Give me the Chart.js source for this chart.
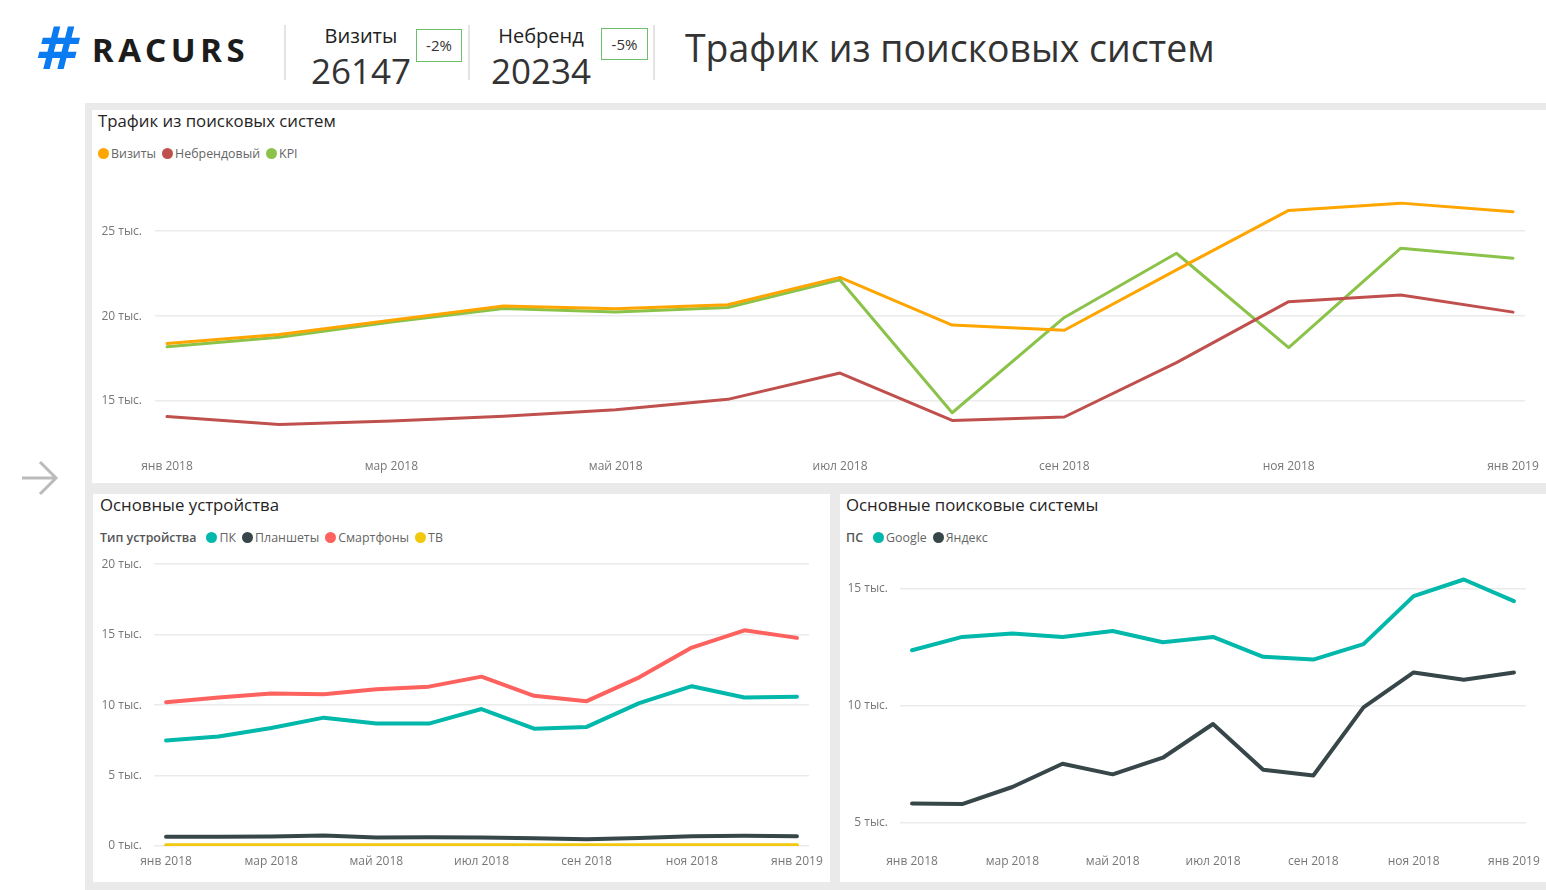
<!DOCTYPE html>
<html><head><meta charset="utf-8">
<script src="https://cdn.jsdelivr.net/npm/chart.js@4.4.0/dist/chart.umd.min.js"></script>
<style>
body{margin:0;width:1546px;height:890px;background:#fff;position:relative;overflow:hidden;font-family:"Open Sans","Noto Sans",sans-serif;color:#333;}
.a{position:absolute;}
.bg{left:85px;top:103px;width:1461px;height:787px;background:#EAEAEA;}
.panel{background:#fff;}
.sep{width:2px;top:25px;height:55px;background:#E4E4E4;}
.kpiT{font-size:20px;line-height:24px;text-align:center;color:#222;}
.kpiV{font-size:35px;line-height:40px;color:#333;letter-spacing:0px;}
.box{border:1px solid #6CC06C;font-size:15px;line-height:30px;text-align:center;color:#333;box-sizing:border-box;}
.ptitle{font-size:16.8px;line-height:20px;color:#252423;}
.legend{display:flex;align-items:center;font-size:12.4px;color:#666;white-space:nowrap;}
.legend .it{display:flex;align-items:center;margin-right:6px;}
.legend .dot{width:11px;height:11px;border-radius:50%;margin-right:2px;}
.legend .lt{font-weight:600;color:#555;margin-right:10px;}
canvas{position:absolute;}
</style></head>
<body>
<div class="a" style="left:34px;top:16px;font-family:'DejaVu Sans',sans-serif;font-weight:bold;font-style:italic;font-size:59px;line-height:66px;color:#0A7BF0;">#</div>
<div class="a" style="left:92px;top:29px;font-family:'Noto Sans','Open Sans',sans-serif;font-weight:700;font-size:33px;line-height:42px;letter-spacing:4.6px;color:#1c1c1c;">RACURS</div>
<div class="a sep" style="left:284px;"></div>
<div class="a kpiT" style="left:311px;top:24px;width:100px;">Визиты</div>
<div class="a kpiV" id="v1" style="left:311px;top:51px;"></div>
<div class="a box" id="b1" style="left:416px;top:29px;width:46px;height:33px;"></div>
<div class="a sep" style="left:468px;"></div>
<div class="a kpiT" style="left:491px;top:24px;width:100px;">Небренд</div>
<div class="a kpiV" id="v2" style="left:491px;top:51px;"></div>
<div class="a box" id="b2" style="left:601px;top:28px;width:47px;height:32px;"></div>
<div class="a sep" style="left:653px;"></div>
<div class="a" style="left:685px;top:25px;font-size:37.4px;line-height:46px;color:#333;">Трафик из поисковых систем</div>

<svg class="a" style="left:18px;top:456px;" width="44" height="44"><path d="M4 22 H38 M22 6 L38 22 L22 38" stroke="#BBBBBB" stroke-width="3" fill="none"/></svg>

<div class="a bg"></div>
<div class="a panel" style="left:92px;top:110px;width:1454px;height:373px;"></div>
<div class="a panel" style="left:93px;top:494px;width:737px;height:388px;"></div>
<div class="a panel" style="left:840px;top:494px;width:706px;height:388px;"></div>

<div class="a ptitle" style="left:98px;top:111px;">Трафик из поисковых систем</div>
<div class="a legend" id="lg1" style="left:98px;top:145px;"></div>
<div class="a ptitle" style="left:100px;top:495px;">Основные устройства</div>
<div class="a legend" id="lg2" style="left:100px;top:529px;"><span class="lt">Тип устройства</span></div>
<div class="a ptitle" style="left:846px;top:495px;">Основные поисковые системы</div>
<div class="a legend" id="lg3" style="left:846px;top:529px;"><span class="lt">ПС</span></div>

<canvas id="c1" style="left:92px;top:155px;" width="1454" height="325"></canvas>
<canvas id="c2" style="left:93px;top:545px;" width="737" height="337"></canvas>
<canvas id="c3" style="left:840px;top:545px;" width="706" height="337"></canvas>

<script>
const months = ['янв 2018','фев 2018','мар 2018','апр 2018','май 2018','июн 2018','июл 2018','авг 2018','сен 2018','окт 2018','ноя 2018','дек 2018','янв 2019'];
const visits      = [18390,18920,19760,20590,20430,20670,22280,19470,19170,22720,26220,26650,26147];
const nonbrand    = [14090,13620,13820,14110,14490,15100,16650,13860,14060,17260,20850,21240,20234];
const kpi         = [18190,18760,19650,20450,20240,20510,22130,14310,19920,23700,18150,24000,23410];
const pc          = [7490,7770,8380,9110,8690,8690,9720,8330,8450,10140,11340,10540,10590];
const tablets     = [660,660,680,740,610,620,600,550,480,560,690,720,700];
const smartphones = [10210,10540,10820,10770,11130,11310,12020,10660,10280,11970,14080,15310,14770];
const tv          = [50,50,50,50,50,50,50,50,50,50,50,50,50];
const google      = [12360,12930,13070,12930,13180,12700,12930,12080,11960,12620,14670,15380,14460];
const yandex      = [5810,5790,6520,7510,7060,7770,9210,7260,7010,9920,11410,11100,11410];
const xTickIdx = [0,2,4,6,8,10,12];

const last = a => a[a.length-1], prev = a => a[a.length-2];
document.getElementById('v1').textContent = last(visits);
document.getElementById('v2').textContent = last(nonbrand);
document.getElementById('b1').textContent = Math.round((last(visits)-prev(visits))/prev(visits)*100) + '%';
document.getElementById('b2').textContent = Math.round((last(nonbrand)-prev(nonbrand))/prev(nonbrand)*100) + '%';

function legend(id, items){
  const el = document.getElementById(id);
  items.forEach(([name,color])=>{
    const it = document.createElement('span'); it.className='it';
    const d = document.createElement('span'); d.className='dot'; d.style.background=color;
    const t = document.createElement('span'); t.textContent=name;
    it.appendChild(d); it.appendChild(t); el.appendChild(it);
  });
}

const pts = arr => arr.map((v,i)=>({x:i,y:v}));
function ds(label, data, color, w){
  return {label, data:pts(data), borderColor:color, backgroundColor:color, borderWidth:w,
    pointRadius:0, tension:0, fill:false, borderCapStyle:'round', borderJoinStyle:'round'};
}
const tickFont = {family:"'Open Sans','Noto Sans',sans-serif", size:12};

function makeChart(id, datasets, c){
  return new Chart(document.getElementById(id), {
    type:'line',
    data:{datasets},
    options:{
      responsive:false, animation:false, events:[],
      layout:{padding:{top:c.padTop,right:c.padRight,left:0,bottom:0}},
      plugins:{legend:{display:false}, tooltip:{enabled:false}},
      scales:{
        x:{type:'linear', min:-c.xOff, max:12+c.xOff,
          grid:{display:false}, border:{display:false},
          afterBuildTicks:s=>{ s.ticks = xTickIdx.map(v=>({value:v})); },
          afterFit:s=>{ s.height = c.xHeight; },
          ticks:{padding:c.xPad, color:'#777', font:tickFont, maxRotation:0, autoSkip:false,
            callback:v=>months[v]}},
        y:{min:c.yMin, max:c.yMax,
          grid:{color:'#EBEBEB', lineWidth:1.5, drawTicks:false}, border:{display:false},
          afterBuildTicks:s=>{ s.ticks = c.yTicks.map(v=>({value:v})); },
          afterFit:s=>{ s.width = c.yWidth; },
          ticks:{padding:c.yPad, color:'#777', font:tickFont,
            callback:v=>(v/1000)+' тыс.'}}
      }
    }
  });
}

legend('lg1', [['Визиты','#FFA500'],['Небрендовый','#C0504D'],['KPI','#8BC34A']]);
legend('lg2', [['ПК','#01B8AA'],['Планшеты','#374649'],['Смартфоны','#FD625E'],['ТВ','#F2C80F']]);
legend('lg3', [['Google','#01B8AA'],['Яндекс','#374649']]);

makeChart('c1', [
  ds('Небрендовый', nonbrand, '#C0504D', 3),
  ds('Визиты', visits, '#FFA500', 3),
  ds('KPI', kpi, '#8BC34A', 3)
], {padTop:20,padRight:21,xOff:0.107,xHeight:30,xPad:1,yMin:12118,yMax:28294,yTicks:[15000,20000,25000],yWidth:63,yPad:13});

makeChart('c2', [
  ds('ТВ', tv, '#F2C80F', 4),
  ds('Планшеты', tablets, '#374649', 4),
  ds('ПК', pc, '#01B8AA', 4),
  ds('Смартфоны', smartphones, '#FD625E', 4)
], {padTop:19,padRight:21,xOff:0.229,xHeight:36,xPad:0,yMin:0,yMax:20000,yTicks:[0,5000,10000,15000,20000],yWidth:61,yPad:12});

makeChart('c3', [
  ds('Яндекс', yandex, '#374649', 4),
  ds('Google', google, '#01B8AA', 4)
], {padTop:20,padRight:20,xOff:0.24,xHeight:36,xPad:0,yMin:4000,yMax:16000,yTicks:[5000,10000,15000],yWidth:60,yPad:12});
</script>
</body></html>
